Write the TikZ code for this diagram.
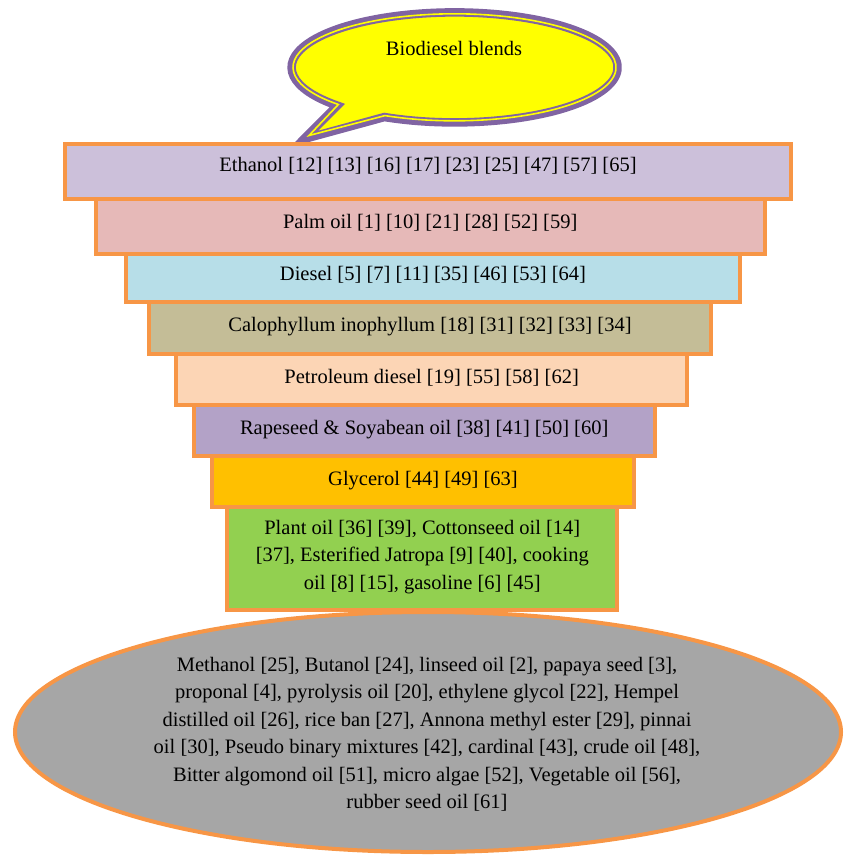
\documentclass[tikz,border=0pt]{standalone}
\usepackage{fontspec}
\setmainfont{Liberation Serif}
\usetikzlibrary{shapes.geometric}
\definecolor{bord}{HTML}{F79646}
\definecolor{cEth}{HTML}{CCC0DA}
\definecolor{cPalm}{HTML}{E6B9B8}
\definecolor{cDies}{HTML}{B7DEE8}
\definecolor{cCalo}{HTML}{C4BD97}
\definecolor{cPetr}{HTML}{FCD5B5}
\definecolor{cRape}{HTML}{B3A2C7}
\definecolor{cGlyc}{HTML}{FFC000}
\definecolor{cPlant}{HTML}{92D050}
\definecolor{cGrey}{HTML}{A6A6A6}
\definecolor{cPurp}{HTML}{8064A2}
\definecolor{cYel}{HTML}{FFFF00}
\begin{document}
\begin{tikzpicture}[x=1pt,y=1pt,
  layer/.style={draw=bord, line width=4pt, inner sep=0pt, outer sep=0pt, rectangle},
  lbl/.style={font=\fontsize{20.5}{27.5}\selectfont, inner sep=0pt, align=center, text=black}]
\useasboundingbox (0,0) rectangle (845,-856);
% callout
\fill[cYel] (384.4,-117.05) arc[start angle=244.5, end angle=584, x radius=163pt, y radius=55pt] -- (304,-139) -- cycle;
\draw[cPurp, line width=8.5pt, line join=miter] (384.4,-117.05) arc[start angle=244.5, end angle=584, x radius=163pt, y radius=55pt] -- (304,-139) -- cycle;
\draw[cYel, line width=1.6pt, line join=miter] (385,-115.6) arc[start angle=244.5, end angle=584, x radius=161.5pt, y radius=53.5pt] -- (309,-135.5) -- cycle;
\node[lbl, anchor=base] (bio) at (454,-56) {Biodiesel blends};
% layers
\node[layer, fill=cEth, minimum width=725.4pt, minimum height=55.3pt] (eth) at (428,-171.35) {};
\node[layer, fill=cPalm, minimum width=669pt, minimum height=55pt] (palm) at (430.2,-226.5) {};
\node[layer, fill=cDies, minimum width=613.4pt, minimum height=48pt] (dies) at (433,-278) {};
\node[layer, fill=cCalo, minimum width=561.4pt, minimum height=51.7pt] (calo) at (430,-327.85) {};
\node[layer, fill=cPetr, minimum width=511.3pt, minimum height=51pt] (petr) at (431.65,-379.2) {};
\node[layer, fill=cRape, minimum width=461pt, minimum height=51pt] (rape) at (424.2,-430.2) {};
\node[layer, fill=cGlyc, minimum width=422pt, minimum height=51.3pt] (glyc) at (423,-481.35) {};
\node[layer, fill=cPlant, minimum width=390pt, minimum height=102.7pt] (plant) at (422.3,-558.35) {};
\node[draw=bord, line width=4pt, fill=cGrey, ellipse, inner sep=0pt, minimum width=826pt, minimum height=240pt] (oval) at (428,-732) {};
% labels
\node[lbl, anchor=base] (ethT) at (428,-171.7) {Ethanol [12] [13] [16] [17] [23] [25] [47] [57] [65]};
\node[lbl, anchor=base] (palmT) at (430.2,-228.3) {Palm oil [1] [10] [21] [28] [52] [59]};
\node[lbl, anchor=base] (diesT) at (433,-280) {Diesel [5] [7] [11] [35] [46] [53] [64]};
\node[lbl, anchor=base] (caloT) at (430,-331) {Calophyllum inophyllum [18] [31] [32] [33] [34]};
\node[lbl, anchor=base] (petrT) at (431.65,-383) {Petroleum diesel [19] [55] [58] [62]};
\node[lbl, anchor=base] (rapeT) at (424.2,-434) {Rapeseed \& Soyabean oil [38] [41] [50] [60]};
\node[lbl, anchor=base] (glycT) at (423,-485) {Glycerol [44] [49] [63]};
\node[lbl] (plantT) at (422.3,-556.75) {Plant oil [36] [39], Cottonseed oil [14]\\{}[37], Esterified Jatropa [9] [40], cooking\\ oil [8] [15], gasoline [6] [45]};
\node[lbl] (ovalT) at (427,-734) {Methanol [25], Butanol [24], linseed oil [2], papaya seed [3],\\ proponal [4], pyrolysis oil [20], ethylene glycol [22], Hempel\\ distilled oil [26], rice ban [27], Annona methyl ester [29], pinnai\\ oil [30], Pseudo binary mixtures [42], cardinal [43], crude oil [48],\\ Bitter algomond oil [51], micro algae [52], Vegetable oil [56],\\ rubber seed oil [61]};
\end{tikzpicture}
\end{document}
